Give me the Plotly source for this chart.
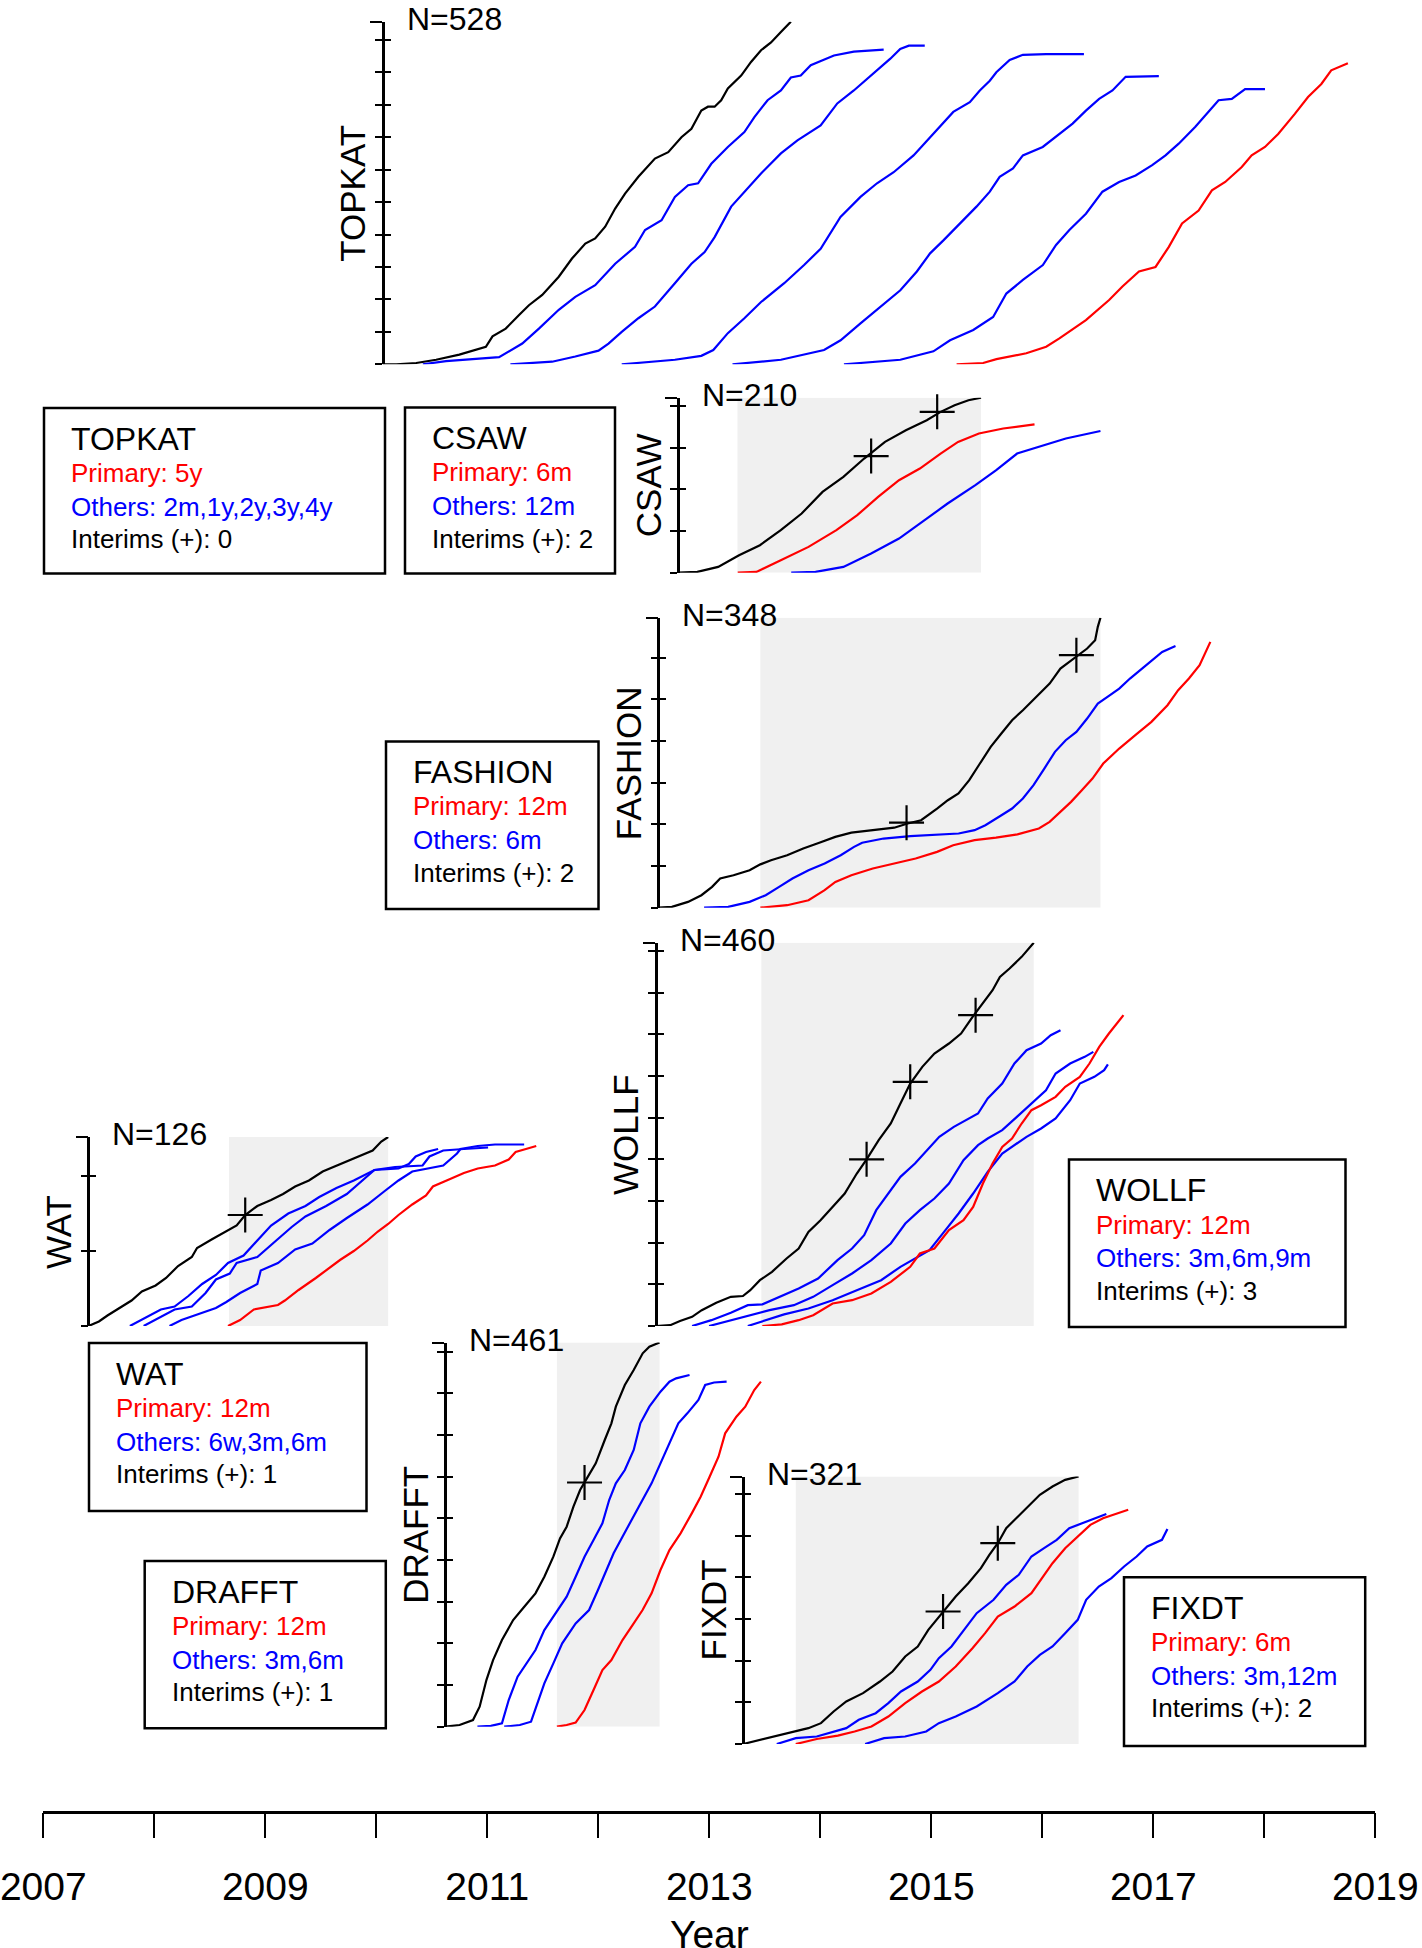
import plotly.graph_objects as go

W, H = 1422, 1948

# ------------------------------------------------------------------ data
trials = ["TOPKAT", "CSAW", "FASHION", "WOLLF", "WAT", "DRAFFT", "FIXDT"]
n_total = [528, 210, 348, 460, 126, 461, 321]
recruit_start = [2010.058, 2012.718, 2012.542, 2012.517, 2007.407, 2010.621, 2013.305]
shade_start = [None, 2013.254, 2013.460, 2013.469, 2008.673, 2011.627, 2013.779]
shade_end = [None, 2015.448, 2016.524, 2015.923, 2010.107, 2012.552, 2016.327]
primary_label = ["5y", "6m", "12m", "12m", "12m", "12m", "6m"]
others_label = ["2m,1y,2y,3y,4y", "12m", "6m", "3m,6m,9m", "6w,3m,6m", "3m,6m", "3m,12m"]
n_interims = [0, 2, 2, 3, 1, 1, 2]

year_ticks = list(range(2007, 2020))
year_labels = [str(y) if y % 2 == 1 else "" for y in year_ticks]

# TOPKAT
topkat_rec_x = [2010.058, 2010.180, 2010.360, 2010.539, 2010.748, 2010.987, 2011.047, 2011.166, 2011.286, 2011.375, 2011.495, 2011.644, 2011.763, 2011.883, 2011.972, 2012.062, 2012.152, 2012.241, 2012.361, 2012.510, 2012.630, 2012.749, 2012.839, 2012.928, 2012.988, 2013.048, 2013.107, 2013.167, 2013.287, 2013.376, 2013.466, 2013.556, 2013.645, 2013.735]
topkat_rec_y = [0, 0, 2, 7, 15, 27, 43, 55, 76, 91, 107, 135, 163, 186, 194, 212, 240, 263, 289, 317, 327, 350, 363, 391, 397, 397, 407, 425, 445, 466, 484, 496, 512, 528]
topkat_2m_x = [2010.419, 2010.628, 2011.106, 2011.196, 2011.315, 2011.465, 2011.644, 2011.793, 2011.972, 2012.152, 2012.331, 2012.421, 2012.570, 2012.690, 2012.809, 2012.899, 2013.018, 2013.167, 2013.316, 2013.406, 2013.525, 2013.645, 2013.735, 2013.824, 2013.914, 2014.123, 2014.302, 2014.571]
topkat_2m_y = [0, 5, 11, 20, 32, 55, 84, 104, 122, 155, 181, 207, 222, 258, 276, 279, 309, 335, 358, 381, 407, 422, 442, 445, 461, 476, 482, 485]
topkat_1y_x = [2011.208, 2011.584, 2011.793, 2012.002, 2012.092, 2012.211, 2012.361, 2012.510, 2012.690, 2012.839, 2012.958, 2013.048, 2013.197, 2013.346, 2013.466, 2013.645, 2013.794, 2014.003, 2014.153, 2014.302, 2014.421, 2014.511, 2014.631, 2014.720, 2014.798, 2014.941]
topkat_1y_y = [0, 4, 12, 21, 32, 50, 71, 89, 125, 155, 173, 196, 243, 271, 294, 325, 345, 368, 402, 422, 440, 453, 471, 486, 491, 491]
topkat_2y_x = [2012.211, 2012.690, 2012.928, 2013.036, 2013.167, 2013.316, 2013.466, 2013.675, 2013.854, 2014.003, 2014.182, 2014.362, 2014.511, 2014.661, 2014.840, 2015.019, 2015.198, 2015.347, 2015.437, 2015.527, 2015.586, 2015.706, 2015.825, 2016.034, 2016.375]
topkat_2y_y = [0, 7, 13, 22, 48, 71, 96, 125, 153, 178, 227, 258, 279, 296, 322, 355, 389, 404, 422, 437, 450, 469, 477, 478, 478]
topkat_3y_x = [2013.209, 2013.645, 2014.034, 2014.183, 2014.362, 2014.541, 2014.721, 2014.870, 2014.989, 2015.109, 2015.288, 2015.407, 2015.527, 2015.616, 2015.736, 2015.825, 2016.004, 2016.154, 2016.273, 2016.393, 2016.512, 2016.632, 2016.751, 2017.050]
topkat_3y_y = [0, 7, 22, 37, 63, 89, 114, 143, 171, 191, 222, 243, 266, 289, 302, 322, 335, 355, 371, 391, 409, 422, 443, 444]
topkat_4y_x = [2014.213, 2014.721, 2015.019, 2015.169, 2015.378, 2015.557, 2015.676, 2015.825, 2016.005, 2016.124, 2016.244, 2016.393, 2016.542, 2016.692, 2016.841, 2016.990, 2017.110, 2017.229, 2017.379, 2017.468, 2017.588, 2017.707, 2017.827, 2018.006]
topkat_4y_y = [0, 7, 20, 37, 53, 73, 109, 130, 153, 184, 207, 232, 266, 281, 291, 307, 322, 340, 366, 384, 407, 409, 424, 424]
topkat_5y_x = [2015.228, 2015.467, 2015.587, 2015.856, 2016.035, 2016.154, 2016.393, 2016.602, 2016.722, 2016.871, 2017.020, 2017.140, 2017.259, 2017.408, 2017.528, 2017.648, 2017.797, 2017.886, 2018.006, 2018.125, 2018.275, 2018.394, 2018.514, 2018.603, 2018.753]
topkat_5y_y = [0, 2, 8, 17, 27, 40, 68, 99, 120, 143, 150, 181, 217, 237, 268, 281, 304, 322, 335, 355, 386, 412, 432, 453, 464]

# CSAW
csaw_rec_x = [2012.718, 2012.892, 2013.080, 2013.268, 2013.456, 2013.644, 2013.832, 2014.020, 2014.208, 2014.395, 2014.583, 2014.771, 2014.959, 2015.084, 2015.210, 2015.335, 2015.448]
csaw_rec_y = [0, 1, 7, 21, 33, 51, 71, 97, 115, 137, 157, 171, 183, 193, 201, 207, 210]
csaw_6m_x = [2013.256, 2013.425, 2013.644, 2013.894, 2014.145, 2014.333, 2014.521, 2014.709, 2014.897, 2015.084, 2015.241, 2015.429, 2015.648, 2015.930]
csaw_6m_y = [0, 1, 15, 31, 51, 69, 91, 111, 125, 143, 157, 167, 173, 178]
csaw_12m_x = [2013.738, 2013.957, 2014.208, 2014.458, 2014.709, 2014.959, 2015.147, 2015.397, 2015.585, 2015.773, 2015.961, 2016.212, 2016.524]
csaw_12m_y = [0, 1, 7, 23, 41, 65, 83, 105, 123, 143, 151, 161, 170]

# FASHION
fashion_rec_x = [2012.542, 2012.663, 2012.808, 2012.929, 2013.025, 2013.098, 2013.218, 2013.363, 2013.460, 2013.556, 2013.701, 2013.846, 2013.991, 2014.135, 2014.280, 2014.473, 2014.666, 2014.787, 2014.908, 2015.052, 2015.149, 2015.245, 2015.342, 2015.438, 2015.535, 2015.631, 2015.728, 2015.825, 2015.945, 2016.066, 2016.163, 2016.307, 2016.404, 2016.476, 2016.500, 2016.524]
fashion_rec_y = [0, 1, 7, 15, 25, 35, 39, 45, 52, 57, 63, 71, 78, 85, 90, 93, 96, 101, 105, 119, 129, 137, 153, 173, 193, 209, 225, 237, 253, 269, 287, 301, 311, 321, 337, 348]
fashion_6m_x = [2012.953, 2013.170, 2013.363, 2013.508, 2013.629, 2013.749, 2013.894, 2014.039, 2014.184, 2014.304, 2014.377, 2014.570, 2014.811, 2015.052, 2015.246, 2015.390, 2015.487, 2015.632, 2015.728, 2015.825, 2015.921, 2016.018, 2016.114, 2016.211, 2016.307, 2016.404, 2016.500, 2016.597, 2016.693, 2016.790, 2016.935, 2017.080, 2017.200]
fashion_6m_y = [0, 1, 7, 15, 25, 35, 45, 53, 63, 73, 78, 83, 86, 88, 89, 93, 99, 111, 119, 131, 147, 167, 187, 201, 211, 227, 245, 254, 263, 275, 291, 307, 314]
fashion_12m_x = [2013.460, 2013.701, 2013.894, 2014.039, 2014.136, 2014.280, 2014.473, 2014.666, 2014.859, 2015.052, 2015.197, 2015.390, 2015.583, 2015.776, 2015.969, 2016.066, 2016.163, 2016.259, 2016.356, 2016.452, 2016.549, 2016.693, 2016.838, 2016.983, 2017.128, 2017.224, 2017.321, 2017.417, 2017.514]
fashion_12m_y = [0, 3, 9, 21, 31, 39, 47, 53, 59, 67, 75, 81, 84, 88, 95, 103, 115, 127, 141, 155, 173, 191, 207, 223, 243, 261, 275, 291, 319]

# WOLLF
wollf_rec_x = [2012.517, 2012.648, 2012.736, 2012.845, 2012.932, 2013.063, 2013.194, 2013.303, 2013.369, 2013.456, 2013.565, 2013.696, 2013.805, 2013.893, 2014.002, 2014.111, 2014.220, 2014.329, 2014.417, 2014.526, 2014.635, 2014.722, 2014.810, 2014.919, 2015.028, 2015.159, 2015.268, 2015.377, 2015.465, 2015.552, 2015.618, 2015.705, 2015.814, 2015.923]
wollf_rec_y = [0, 1, 6, 11, 19, 28, 35, 36, 43, 55, 65, 81, 93, 113, 127, 143, 159, 183, 200, 223, 243, 267, 291, 311, 327, 339, 351, 372, 387, 403, 419, 429, 443, 460]
wollf_3m_x = [2012.845, 2013.019, 2013.194, 2013.347, 2013.478, 2013.631, 2013.805, 2013.980, 2014.155, 2014.286, 2014.395, 2014.504, 2014.613, 2014.722, 2014.853, 2014.963, 2015.072, 2015.203, 2015.334, 2015.421, 2015.508, 2015.639, 2015.749, 2015.858, 2015.989, 2016.076, 2016.164]
wollf_3m_y = [0, 7, 16, 25, 26, 35, 45, 57, 79, 93, 109, 139, 159, 179, 195, 211, 227, 239, 249, 255, 273, 291, 315, 331, 339, 349, 355]
wollf_6m_x = [2012.998, 2013.194, 2013.369, 2013.543, 2013.762, 2013.936, 2014.111, 2014.286, 2014.460, 2014.635, 2014.766, 2014.897, 2015.028, 2015.159, 2015.290, 2015.421, 2015.508, 2015.639, 2015.771, 2015.901, 2016.033, 2016.120, 2016.251, 2016.382, 2016.460]
wollf_6m_y = [0, 7, 13, 19, 25, 35, 49, 63, 79, 99, 123, 139, 153, 171, 199, 217, 225, 235, 251, 267, 283, 303, 315, 323, 329]
wollf_9m_x = [2013.347, 2013.500, 2013.674, 2013.893, 2014.111, 2014.329, 2014.548, 2014.722, 2014.853, 2014.984, 2015.115, 2015.246, 2015.377, 2015.508, 2015.639, 2015.727, 2015.858, 2015.989, 2016.120, 2016.251, 2016.338, 2016.469, 2016.557, 2016.591]
wollf_9m_y = [0, 7, 14, 21, 31, 43, 55, 71, 81, 91, 113, 135, 159, 185, 207, 215, 227, 237, 249, 271, 291, 299, 307, 314]
wollf_12m_x = [2013.478, 2013.653, 2013.805, 2013.936, 2014.111, 2014.286, 2014.460, 2014.635, 2014.810, 2014.897, 2015.028, 2015.159, 2015.290, 2015.377, 2015.465, 2015.552, 2015.639, 2015.727, 2015.814, 2015.902, 2015.989, 2016.120, 2016.207, 2016.338, 2016.425, 2016.513, 2016.600, 2016.731]
wollf_12m_y = [0, 2, 7, 13, 27, 31, 39, 53, 71, 87, 93, 115, 127, 143, 171, 195, 215, 225, 243, 259, 265, 275, 287, 299, 315, 335, 351, 373]

# WAT
wat_rec_x = [2007.407, 2007.501, 2007.578, 2007.687, 2007.795, 2007.888, 2008.012, 2008.106, 2008.214, 2008.338, 2008.385, 2008.524, 2008.618, 2008.742, 2008.819, 2008.928, 2009.052, 2009.160, 2009.269, 2009.393, 2009.517, 2009.673, 2009.828, 2009.967, 2010.045, 2010.107]
wat_rec_y = [0, 3, 7, 12, 17, 23, 27, 32, 40, 46, 52, 58, 62, 67, 74, 80, 84, 88, 93, 97, 103, 108, 113, 117, 123, 126]
wat_6w_x = [2007.780, 2007.904, 2008.059, 2008.183, 2008.307, 2008.431, 2008.555, 2008.664, 2008.804, 2008.928, 2009.052, 2009.207, 2009.362, 2009.486, 2009.641, 2009.797, 2009.983, 2010.200, 2010.293, 2010.355, 2010.448, 2010.557]
wat_6w_y = [0, 5, 11, 13, 20, 28, 34, 42, 47, 57, 67, 75, 80, 86, 92, 97, 104, 105, 108, 113, 116, 118]
wat_3m_x = [2007.904, 2008.059, 2008.183, 2008.338, 2008.462, 2008.555, 2008.680, 2008.742, 2008.928, 2009.114, 2009.238, 2009.362, 2009.548, 2009.734, 2009.858, 2009.983, 2010.169, 2010.417, 2010.479, 2010.603, 2010.789, 2011.007]
wat_3m_y = [0, 6, 11, 13, 22, 31, 35, 42, 46, 58, 66, 73, 80, 88, 96, 104, 106, 107, 113, 117, 118, 119]
wat_6m_x = [2008.137, 2008.245, 2008.400, 2008.555, 2008.649, 2008.773, 2008.928, 2008.959, 2009.114, 2009.269, 2009.424, 2009.579, 2009.735, 2009.921, 2010.076, 2010.200, 2010.324, 2010.448, 2010.603, 2010.727, 2010.758, 2010.914, 2011.069, 2011.332]
wat_6m_y = [0, 4, 8, 12, 16, 22, 28, 37, 42, 51, 55, 64, 72, 81, 90, 97, 103, 105, 107, 115, 118, 120, 121, 121]
wat_12m_x = [2008.664, 2008.773, 2008.897, 2009.114, 2009.176, 2009.300, 2009.455, 2009.548, 2009.673, 2009.797, 2009.921, 2010.014, 2010.107, 2010.200, 2010.324, 2010.448, 2010.510, 2010.665, 2010.789, 2010.914, 2011.069, 2011.193, 2011.255, 2011.348, 2011.441]
wat_12m_y = [0, 4, 11, 14, 17, 24, 32, 37, 44, 50, 57, 63, 68, 74, 81, 87, 93, 98, 102, 105, 107, 111, 116, 118, 120]

# DRAFFT
drafft_rec_x = [2010.621, 2010.750, 2010.871, 2010.931, 2010.992, 2011.052, 2011.132, 2011.233, 2011.333, 2011.434, 2011.514, 2011.595, 2011.655, 2011.715, 2011.776, 2011.836, 2011.897, 2011.977, 2012.058, 2012.118, 2012.158, 2012.239, 2012.319, 2012.400, 2012.460, 2012.552]
drafft_rec_y = [0, 2, 8, 24, 56, 80, 104, 128, 144, 160, 180, 204, 226, 240, 264, 284, 298, 316, 344, 364, 384, 410, 428, 448, 456, 461]
drafft_3m_x = [2010.911, 2011.032, 2011.132, 2011.193, 2011.273, 2011.354, 2011.434, 2011.514, 2011.615, 2011.715, 2011.796, 2011.876, 2011.957, 2012.037, 2012.098, 2012.158, 2012.239, 2012.319, 2012.379, 2012.460, 2012.560, 2012.641, 2012.701, 2012.822]
drafft_3m_y = [0, 1, 4, 32, 60, 76, 92, 116, 136, 156, 180, 204, 224, 244, 272, 292, 308, 332, 364, 384, 402, 414, 418, 422]
drafft_6m_x = [2011.152, 2011.293, 2011.394, 2011.454, 2011.514, 2011.595, 2011.675, 2011.796, 2011.917, 2011.997, 2012.058, 2012.138, 2012.218, 2012.319, 2012.400, 2012.480, 2012.560, 2012.641, 2012.721, 2012.802, 2012.902, 2012.963, 2013.043, 2013.156]
drafft_6m_y = [0, 2, 6, 28, 52, 76, 100, 124, 140, 164, 184, 208, 228, 252, 272, 292, 316, 340, 364, 376, 392, 410, 413, 414]
drafft_12m_x = [2011.627, 2011.715, 2011.796, 2011.876, 2011.957, 2012.037, 2012.118, 2012.218, 2012.319, 2012.399, 2012.480, 2012.560, 2012.641, 2012.741, 2012.842, 2012.922, 2013.003, 2013.083, 2013.143, 2013.244, 2013.324, 2013.405, 2013.465]
drafft_12m_y = [0, 2, 5, 20, 44, 68, 80, 104, 124, 140, 160, 188, 212, 232, 256, 276, 300, 324, 352, 372, 384, 404, 414]

# FIXDT
fixdt_rec_x = [2013.305, 2013.399, 2013.513, 2013.665, 2013.779, 2013.892, 2014.006, 2014.120, 2014.234, 2014.385, 2014.537, 2014.651, 2014.765, 2014.878, 2014.973, 2015.106, 2015.220, 2015.333, 2015.447, 2015.523, 2015.599, 2015.675, 2015.751, 2015.864, 2015.978, 2016.092, 2016.206, 2016.327]
fixdt_rec_y = [0, 3, 7, 11, 15, 19, 25, 39, 51, 61, 75, 87, 105, 117, 137, 159, 177, 193, 211, 227, 241, 259, 269, 285, 299, 309, 317, 321]
fixdt_3m_x = [2013.608, 2013.779, 2013.968, 2014.120, 2014.234, 2014.347, 2014.499, 2014.613, 2014.727, 2014.878, 2014.992, 2015.068, 2015.182, 2015.295, 2015.409, 2015.561, 2015.675, 2015.788, 2015.902, 2016.016, 2016.130, 2016.243, 2016.357, 2016.471, 2016.577]
fixdt_3m_y = [0, 7, 9, 15, 19, 29, 37, 49, 63, 75, 89, 103, 117, 137, 157, 173, 191, 203, 225, 235, 245, 259, 265, 271, 276]
fixdt_6m_x = [2013.779, 2013.968, 2014.158, 2014.309, 2014.461, 2014.613, 2014.765, 2014.916, 2015.068, 2015.220, 2015.371, 2015.485, 2015.599, 2015.750, 2015.902, 2015.978, 2016.092, 2016.206, 2016.319, 2016.433, 2016.547, 2016.661, 2016.774]
fixdt_6m_y = [0, 6, 10, 15, 21, 33, 49, 63, 75, 93, 115, 133, 153, 165, 181, 195, 217, 235, 249, 263, 271, 276, 281]
fixdt_12m_x = [2014.404, 2014.575, 2014.764, 2014.954, 2015.068, 2015.220, 2015.409, 2015.599, 2015.750, 2015.864, 2015.978, 2016.092, 2016.206, 2016.319, 2016.395, 2016.509, 2016.623, 2016.737, 2016.850, 2016.945, 2017.078, 2017.127]
fixdt_12m_y = [0, 7, 9, 15, 25, 33, 45, 61, 75, 93, 107, 117, 133, 149, 173, 189, 199, 213, 225, 237, 245, 258]

# interim analyses (+)
interim_x = [[], [2014.458, 2015.053], [2014.777, 2016.307], [2014.417, 2014.810, 2015.399], [2008.819], [2011.876], [2015.106, 2015.599]]
interim_y = [[], [140, 193], [102, 303], [200, 293, 373], [74], [293], [159, 241]]

# curves per trial: (x, y, kind)  kind: rec = recruitment, pri = primary, oth = other
curves = [
    [(topkat_rec_x, topkat_rec_y, "rec"), (topkat_2m_x, topkat_2m_y, "oth"), (topkat_1y_x, topkat_1y_y, "oth"),
     (topkat_2y_x, topkat_2y_y, "oth"), (topkat_3y_x, topkat_3y_y, "oth"), (topkat_4y_x, topkat_4y_y, "oth"),
     (topkat_5y_x, topkat_5y_y, "pri")],
    [(csaw_rec_x, csaw_rec_y, "rec"), (csaw_6m_x, csaw_6m_y, "pri"), (csaw_12m_x, csaw_12m_y, "oth")],
    [(fashion_rec_x, fashion_rec_y, "rec"), (fashion_6m_x, fashion_6m_y, "oth"), (fashion_12m_x, fashion_12m_y, "pri")],
    [(wollf_rec_x, wollf_rec_y, "rec"), (wollf_3m_x, wollf_3m_y, "oth"), (wollf_6m_x, wollf_6m_y, "oth"),
     (wollf_9m_x, wollf_9m_y, "oth"), (wollf_12m_x, wollf_12m_y, "pri")],
    [(wat_rec_x, wat_rec_y, "rec"), (wat_6w_x, wat_6w_y, "oth"), (wat_3m_x, wat_3m_y, "oth"),
     (wat_6m_x, wat_6m_y, "oth"), (wat_12m_x, wat_12m_y, "pri")],
    [(drafft_rec_x, drafft_rec_y, "rec"), (drafft_3m_x, drafft_3m_y, "oth"), (drafft_6m_x, drafft_6m_y, "oth"),
     (drafft_12m_x, drafft_12m_y, "pri")],
    [(fixdt_rec_x, fixdt_rec_y, "rec"), (fixdt_3m_x, fixdt_3m_y, "oth"), (fixdt_6m_x, fixdt_6m_y, "pri"),
     (fixdt_12m_x, fixdt_12m_y, "oth")],
]

# ------------------------------------------------------------------ styling / layout
BLACK, RED, BLUE, SHADE = "#000000", "#ff0000", "#0000ff", "#f0f0f0"
colour = {"rec": BLACK, "pri": RED, "oth": BLUE}
FONT = "Liberation Sans, Arial, Helvetica, sans-serif"

# pixel geometry of panels: (bottom, top) of each y axis
panel_px = [(364.3, 21.7), (572.7, 397.7), (907.7, 617.7), (1326.0, 942.7),
            (1326.0, 1137.0), (1726.7, 1342.5), (1744.0, 1476.5)]
# info boxes: (left, top, right, bottom) in pixels
box_px = [(44, 408, 385, 573.5), (405, 407.5, 615, 573.5), (386, 741.5, 598.5, 909),
          (1069, 1159.5, 1345.5, 1327), (89, 1343, 366.5, 1511), (144.7, 1561, 385.8, 1728.3),
          (1124, 1577.3, 1365.2, 1746)]

X0PX, PX_PER_YEAR = 43.3, 111.0
XDOM = [X0PX / W, (X0PX + 12 * PX_PER_YEAR) / W]


def px_to_py(p):
    return 1 - p / H


def year_to_paper(yr):
    return XDOM[0] + (yr - 2007) / 12 * (XDOM[1] - XDOM[0])


fig = go.Figure()
layout = dict(
    template="none",
    width=W, height=H, autosize=False, margin=dict(l=0, r=0, t=0, b=0, pad=0, autoexpand=False),
    paper_bgcolor="white", plot_bgcolor="rgba(0,0,0,0)", showlegend=False,
    font=dict(family=FONT, color="black"),
    xaxis=dict(domain=XDOM, range=[2007, 2019], anchor="free", position=px_to_py(1811.7),
               automargin=False,
               showline=True, linecolor="black", linewidth=2.5, ticks="outside", ticklen=25,
               tickwidth=2.2, tickcolor="black", tickmode="array", tickvals=year_ticks,
               ticktext=year_labels, tickfont=dict(size=39, family=FONT, color="black"),
               ticklabelstandoff=15, ticklabeloverflow="allow",
               showgrid=False, zeroline=False, fixedrange=True),
    yaxis=dict(visible=False, automargin=False),
)

shapes, annotations = [], []
nP = len(trials)
for k in range(nP):
    N = n_total[k]
    bot, top = panel_px[k]
    dom = [px_to_py(bot), px_to_py(top)]
    pos = year_to_paper(recruit_start[k])
    main_id, over_id = k + 2, k + 2 + nP
    tv = list(range(0, N, 50))
    common = dict(domain=dom, range=[0, N], anchor="free", position=pos, side="left",
                  automargin=False,
                  tickmode="array", tickvals=tv, ticklen=7, tickwidth=2.2, tickcolor="black",
                  showticklabels=False, showgrid=False, zeroline=False, fixedrange=True)
    layout[f"yaxis{main_id}"] = dict(common, showline=True, linecolor="black", linewidth=2.5,
                                     ticks="outside",
                                     minor=dict(tickmode="array", tickvals=[N], ticks="outside",
                                                ticklen=12, tickwidth=2.2, tickcolor="black",
                                                showgrid=False))
    layout[f"yaxis{over_id}"] = dict(common, showline=False, ticks="inside",
                                     overlaying=f"y{main_id}",
                                     minor=dict(tickmode="array", tickvals=[N], ticks="inside",
                                                ticklen=12, tickwidth=2.2, tickcolor="black",
                                                showgrid=False))
    yref = f"y{main_id}"

    # grey shading
    if shade_start[k] is not None:
        shapes.append(dict(type="rect", xref="x", yref=yref, x0=shade_start[k], x1=shade_end[k],
                           y0=0, y1=N, fillcolor=SHADE, line=dict(width=0), layer="below"))

    # empty trace so the tick-overlay axis is drawn
    fig.add_trace(go.Scatter(x=[None], y=[None], mode="lines", xaxis="x", yaxis=f"y{over_id}",
                             hoverinfo="skip"))
    # curves
    for cx, cy, kind in curves[k]:
        fig.add_trace(go.Scatter(x=cx, y=cy, mode="lines", xaxis="x", yaxis=yref,
                                 line=dict(color=colour[kind], width=2.2), hoverinfo="skip"))
    # interim crosses
    if interim_x[k]:
        fig.add_trace(go.Scatter(x=interim_x[k], y=interim_y[k], mode="markers", xaxis="x", yaxis=yref,
                                 marker=dict(symbol="cross-thin", size=25, color=BLACK,
                                             line=dict(color=BLACK, width=2.2)),
                                 hoverinfo="skip", cliponaxis=False))

    # N label
    annotations.append(dict(text=f"N={N}", xref="x", x=recruit_start[k], yref="paper", y=dom[1],
                            xanchor="left", yanchor="middle", xshift=22, yshift=3, showarrow=False,
                            font=dict(size=32, family=FONT, color=BLACK)))
    # panel title (rotated)
    annotations.append(dict(text=trials[k], xref="x", x=recruit_start[k], yref="paper",
                            y=(dom[0] + dom[1]) / 2, textangle=-90, xanchor="center",
                            yanchor="middle", xshift=-30, showarrow=False,
                            font=dict(size=35, family=FONT, color=BLACK)))

    # info box
    l, t, r, b = box_px[k]
    shapes.append(dict(type="rect", xref="paper", yref="paper", x0=l / W, x1=r / W,
                       y0=px_to_py(b), y1=px_to_py(t), line=dict(color=BLACK, width=2.5),
                       fillcolor="rgba(0,0,0,0)", layer="above"))
    lines = [(trials[k], 32, BLACK, 30.5),
             (f"Primary: {primary_label[k]}", 26, RED, 65),
             (f"Others: {others_label[k]}", 26, BLUE, 98.5),
             (f"Interims (+): {n_interims[k]}", 26, BLACK, 131)]
    for txt, fs, col, off in lines:
        annotations.append(dict(text=txt, xref="paper", x=(l + 25) / W, yref="paper",
                                y=px_to_py(t + off), xanchor="left", yanchor="middle",
                                showarrow=False, font=dict(size=fs, family=FONT, color=col)))

# x-axis title
annotations.append(dict(text="Year", xref="x", x=2013, yref="paper", y=px_to_py(1934),
                        xanchor="center", yanchor="middle", showarrow=False,
                        font=dict(size=39, family=FONT, color=BLACK)))

layout["shapes"] = shapes
layout["annotations"] = annotations
fig.update_layout(**layout)

fig.write_html("out.html", config={"responsive": False, "displayModeBar": False},
               post_script="document.body.style.margin='0px';document.body.style.overflow='hidden';")
